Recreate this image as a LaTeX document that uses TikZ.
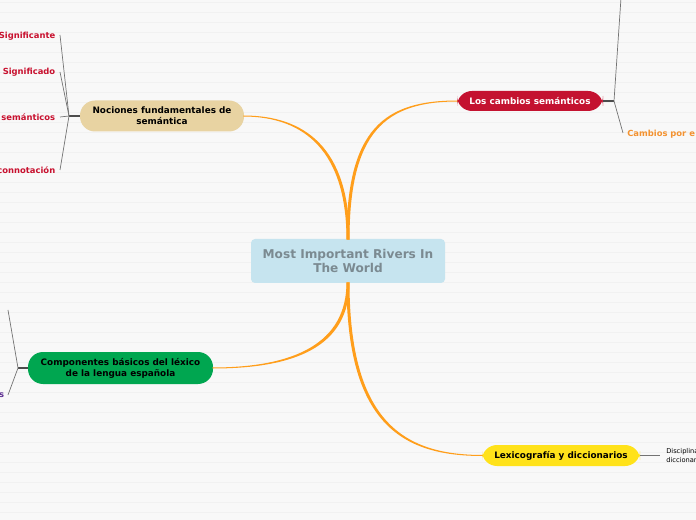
\documentclass[tikz,border=0pt]{standalone}
\usepackage{fontspec}
\setmainfont{DejaVu Sans}
\usepackage{xcolor}
\usetikzlibrary{calc}
\definecolor{bgcol}{HTML}{F8F8F8}
\definecolor{stripecol}{HTML}{F1F1F1}
\definecolor{rootfill}{HTML}{C6E4EF}
\definecolor{roottext}{HTML}{7B8A91}
\definecolor{branchcol}{HTML}{FF9E1B}
\definecolor{tanfill}{HTML}{E8D3A2}
\definecolor{redfill}{HTML}{C41230}
\definecolor{greenfill}{HTML}{00A650}
\definecolor{yellowfill}{HTML}{FFE21A}
\definecolor{leafred}{HTML}{C8102E}
\definecolor{leaforange}{HTML}{F39230}
\definecolor{leafpurple}{HTML}{5C2D91}
\newdimen\pxu
\pxu=0.75pt
\tikzset{
  rootbox/.style={fill=rootfill, rounded corners=4\pxu, minimum width=194\pxu,
    minimum height=44\pxu, align=center, text=roottext, inner sep=0pt,
    font=\bfseries\fontsize{9.1}{11.2}\selectfont},
  pill/.style={rounded corners=15\pxu, align=center, inner sep=0pt,
    font=\bfseries\fontsize{6.65}{8.2}\selectfont},
  branch/.style={fill=branchcol},
  stub/.style={black!70, line width=1.6\pxu},
  twig/.style={black!55, line width=0.7\pxu},
  leaf/.style={font=\bfseries\fontsize{6.3}{7.5}\selectfont, inner sep=0pt},
  note/.style={font=\fontsize{5}{6.2}\selectfont, align=left, inner sep=0pt},
}

\begin{document}
\begin{tikzpicture}[x=0.75pt, y=-0.75pt]
    \useasboundingbox (0,0) rectangle (696,520);
    \clip (0,0) rectangle (696,520);
    \fill[bgcol] (0,0) rectangle (696,520);
    \foreach \y in {2,12,...,512}
        \draw[stripecol, line width=0.7\pxu] (0,\y) -- (696,\y);

    % central topic
    \node[rootbox] (root) at (348,261) {Most Important Rivers In\\The World};

    % main topics
    \node[pill, fill=tanfill, minimum width=164\pxu, minimum height=31\pxu] (nociones) at (162,116) {Nociones fundamentales de\\semántica};
    \node[pill, fill=redfill, text=white, minimum width=146\pxu, minimum height=20\pxu] (cambios) at (530,101) {Los cambios semánticos};
    \node[pill, fill=greenfill, minimum width=185\pxu, minimum height=32\pxu] (componentes) at (120.5,368) {Componentes básicos del léxico\\de la lengua española};
    \node[pill, fill=yellowfill, minimum width=158\pxu, minimum height=21\pxu] (lexico) at (561,455.5) {Lexicografía y diccionarios};

    % tapered branches
    \fill[branch] ($(root.north)+(-1.5,1)$) .. controls (346.5,128) and (385,100.5) .. ($(cambios.west)+(1,-0.5)$)
        -- ($(cambios.west)+(1,0.5)$) .. controls (385,101.5) and (349.5,132) .. ($(root.north)+(1.5,1)$) -- cycle;
    \fill[branch] ($(root.north)+(1.5,1)$) .. controls (349.5,148) and (305,115.5) .. ($(nociones.east)+(-1,-0.5)$)
        -- ($(nociones.east)+(-1,0.5)$) .. controls (305,116.5) and (346.5,152) .. ($(root.north)+(-1.5,1)$) -- cycle;
    \fill[branch] ($(root.south)+(1.5,-1)$) .. controls (349.5,347) and (295,368.5) .. ($(componentes.east)+(-1,0.5)$)
        -- ($(componentes.east)+(-1,-0.5)$) .. controls (295,367.5) and (346.5,343) .. ($(root.south)+(-1.5,-1)$) -- cycle;
    \fill[branch] ($(root.south)+(-1.5,-1)$) .. controls (346.5,427) and (405,456) .. ($(lexico.west)+(1,0.5)$)
        -- ($(lexico.west)+(1,-0.5)$) .. controls (405,455) and (349.5,423) .. ($(root.south)+(1.5,-1)$) -- cycle;

    % subtopics of Nociones
    \coordinate (nocj) at (69,116);
    \node[leaf, text=leafred, anchor=east] (signte) at (55.5,36) {Significante};
    \node[leaf, text=leafred, anchor=east] (signdo) at (55.5,72.5) {Significado};
    \node[leaf, text=leafred, anchor=east] (rasgos) at (55.5,117.5) {semánticos};
    \node[leaf, text=leafred, anchor=east] (connot) at (55.5,170.5) {connotación};
    \draw[stub] (nociones.west) -- (nocj);
    \draw[twig] (nocj) -- (60,35);
    \draw[twig] (nocj) -- (60,72);
    \draw[twig] (nocj) -- (60,117);
    \draw[twig] (nocj) -- (60,170);

    % subtopics of cambios
    \coordinate (camj) at (614,101);
    \coordinate (camtop) at (621,-2);
    \node[leaf, text=leaforange, anchor=west] (causas) at (627,134.5) {Cambios por e};
    \draw[stub] (cambios.east) -- (camj);
    \draw[twig] (camj) -- (camtop);
    \draw[twig] (camj) -- (623,133);

    % subtopics of componentes
    \coordinate (comj) at (18,368);
    \coordinate (comtop) at (8,310);
    \node[leaf, text=leafpurple, anchor=east] (compb) at (4.5,395) {s};
    \draw[stub] (componentes.west) -- (comj);
    \draw[twig] (comj) -- (comtop);
    \draw[twig] (comj) -- (8,395);

    % subtopic of lexicografia
    \node[note, anchor=west] (disc) at (666,455.5) {Disciplina\\diccionarios};
    \draw[twig] (lexico.east) -- (660,455.5);
\end{tikzpicture}
\end{document}
